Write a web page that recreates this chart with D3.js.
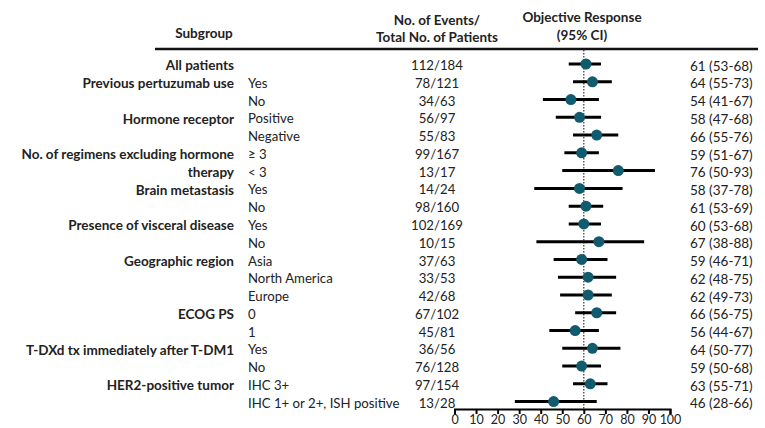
<!DOCTYPE html>
<html>
<head>
<meta charset="utf-8">
<script src="https://cdn.jsdelivr.net/npm/d3@7"></script>
<style>
  html, body { margin: 0; padding: 0; background: #fff; }
  svg { display: block; }
  text { font-family: Lato, "Open Sans", sans-serif; fill: #222; }
</style>
</head>
<body>
<svg id="chart" width="765" height="428"></svg>
<script>
// Subgroup labels (bold group name, plain level name)
const groups = [
  "All patients", "Previous pertuzumab use", "", "Hormone receptor", "",
  "No. of regimens excluding hormone", "therapy", "Brain metastasis", "",
  "Presence of visceral disease", "", "Geographic region", "", "",
  "ECOG PS", "", "T-DXd tx immediately after T-DM1", "", "HER2-positive tumor", ""
];
const levels = [
  "", "Yes", "No", "Positive", "Negative", "\u2265 3", "< 3", "Yes", "No",
  "Yes", "No", "Asia", "North America", "Europe", "0", "1", "Yes", "No",
  "IHC 3+", "IHC 1+ or 2+, ISH positive"
];
const events = [112, 78, 34, 56, 55, 99, 13, 14, 98, 102, 10, 37, 33, 42, 67, 45, 36, 76, 97, 13];
const totals = [184, 121, 63, 97, 83, 167, 17, 24, 160, 169, 15, 63, 53, 68, 102, 81, 56, 128, 154, 28];
const response = [61, 64, 54, 58, 66, 59, 76, 58, 61, 60, 67, 59, 62, 62, 66, 56, 64, 59, 63, 46];
const ciLow = [53, 55, 41, 47, 55, 51, 50, 37, 53, 53, 38, 46, 48, 49, 56, 44, 50, 50, 55, 28];
const ciHigh = [68, 73, 67, 68, 76, 67, 93, 78, 69, 68, 88, 71, 75, 73, 75, 67, 77, 68, 71, 66];
const xTicks = [0, 10, 20, 30, 40, 50, 60, 70, 80, 90, 100];
const referenceValue = 60;

const svg = d3.select("#chart");
const rows = d3.range(groups.length);

const x = d3.scaleLinear().domain([0, 100]).range([454.5, 670]);
const y = d3.scalePoint().domain(rows).range([64, 401.6]);

const textDy = "0.35em";
const fsBold = 13.5;
const fs = 13.2;

// Column headers
const header = svg.append("g").attr("font-weight", "bold").attr("font-size", fsBold).attr("text-anchor", "middle");
header.append("text").attr("x", 204).attr("y", 33).attr("dy", textDy).text("Subgroup");
header.append("text").attr("x", 437).attr("y", 20).attr("dy", textDy).text("No. of Events/");
header.append("text").attr("x", 437).attr("y", 37).attr("dy", textDy).text("Total No. of Patients");
header.append("text").attr("x", 582).attr("y", 17).attr("dy", textDy).text("Objective Response");
header.append("text").attr("x", 582).attr("y", 35).attr("dy", textDy).text("(95% CI)");

// Rule under the header
svg.append("line")
  .attr("x1", 155).attr("x2", 758).attr("y1", 49).attr("y2", 49)
  .attr("stroke", "#111").attr("stroke-width", 2.5);

// Text columns
const rowG = svg.append("g").attr("font-size", fs);
rowG.selectAll("text.group").data(rows).join("text")
  .attr("class", "group")
  .attr("x", 234).attr("y", d => y(d) + 1.5).attr("dy", textDy)
  .attr("text-anchor", "end").attr("font-weight", "bold").attr("font-size", fsBold)
  .text(d => groups[d]);
rowG.selectAll("text.level").data(rows).join("text")
  .attr("class", "level")
  .attr("x", 248).attr("y", d => y(d) + 1.5).attr("dy", textDy)
  .text(d => levels[d]);
rowG.selectAll("text.count").data(rows).join("text")
  .attr("class", "count")
  .attr("x", 437).attr("y", d => y(d) + 1.5).attr("dy", textDy)
  .attr("text-anchor", "middle")
  .text(d => `${events[d]}/${totals[d]}`);
rowG.selectAll("text.est").data(rows).join("text")
  .attr("class", "est")
  .attr("x", 690).attr("y", d => y(d) + 2).attr("dy", textDy)
  .attr("font-size", 13.5)
  .text(d => `${response[d]} (${ciLow[d]}-${ciHigh[d]})`);

// Reference line
svg.append("line")
  .attr("x1", x(referenceValue)).attr("x2", x(referenceValue))
  .attr("y1", 50).attr("y2", 410)
  .attr("stroke", "#333").attr("stroke-width", 1.2)
  .attr("stroke-dasharray", "1.5,1.5");

// Confidence intervals and point estimates
const marks = svg.append("g");
marks.selectAll("line.ci").data(rows).join("line")
  .attr("class", "ci")
  .attr("x1", d => x(ciLow[d])).attr("x2", d => x(ciHigh[d]))
  .attr("y1", d => y(d)).attr("y2", d => y(d))
  .attr("stroke", "#000").attr("stroke-width", 3);
marks.selectAll("circle").data(rows).join("circle")
  .attr("cx", d => x(response[d])).attr("cy", d => y(d))
  .attr("r", 5.5).attr("fill", "#115b6e");

// Axis
const axis = d3.axisBottom(x).tickValues(xTicks).tickSize(5).tickSizeOuter(5).tickPadding(1);
const ax = svg.append("g").attr("transform", "translate(0,409)").call(axis);
ax.select(".domain").attr("stroke", "#000").attr("stroke-width", 2);
ax.selectAll(".tick line").attr("stroke", "#000").attr("stroke-width", 2);
ax.selectAll(".tick text").attr("font-family", "Lato, sans-serif").attr("font-size", 12.5).attr("fill", "#222");
</script>
</body>
</html>
